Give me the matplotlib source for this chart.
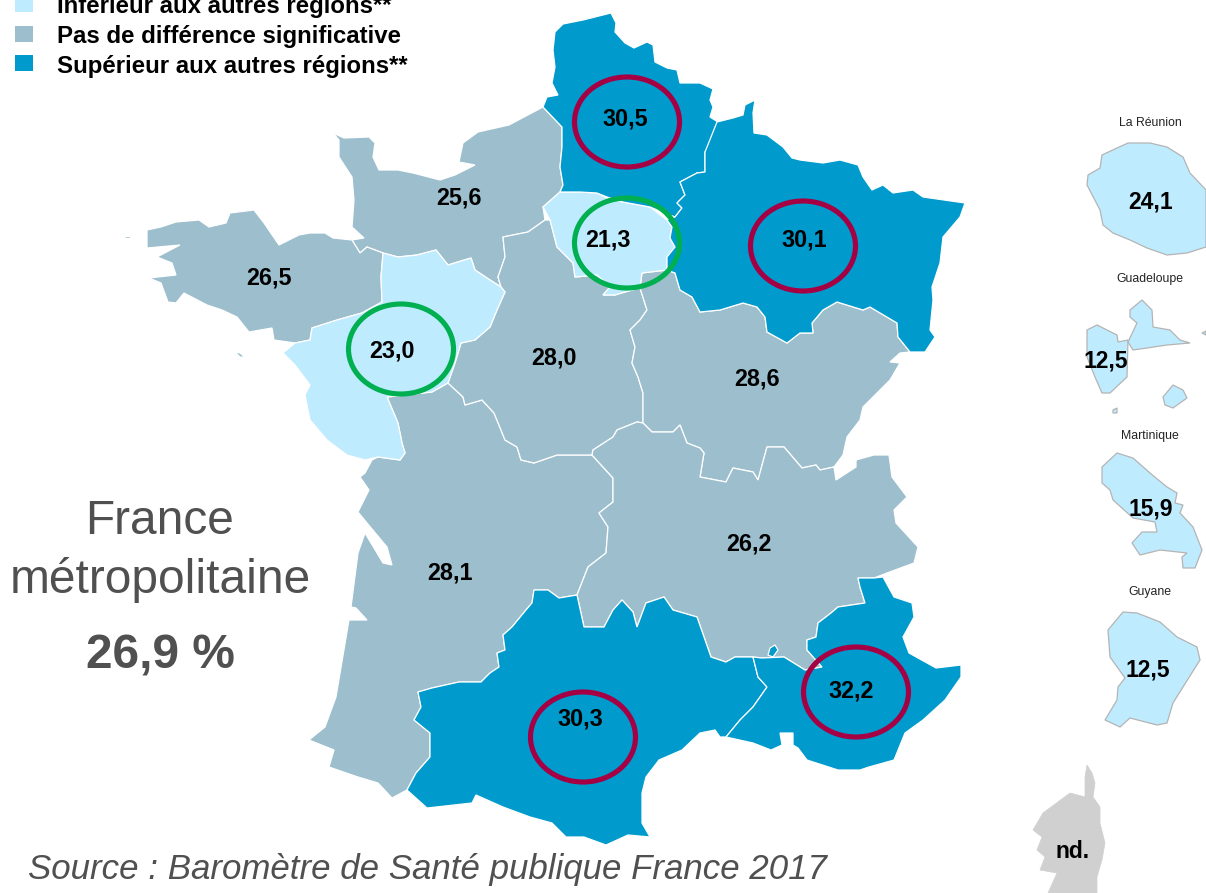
import numpy as np
from matplotlib import pyplot as plt
from matplotlib.patches import Polygon, Ellipse, Rectangle
from matplotlib import rcParams
rcParams['font.family'] = ['Liberation Sans', 'DejaVu Sans']

# region outlines (pixels)
hauts_de_france = [(611,13),(616,23),(615,32),(625,43),(634,48),(647,42),(653,45),(655,62),(667,68),(677,70),(680,83),(700,83),(713,89),(710,100),(713,107),(710,117),(718,122),(717,138),(705,152),(705,172),(697,173),(680,182),(685,195),(677,203),(682,208),(675,217),(650,207),(623,202),(607,197),(597,193),(580,192),(560,192),(563,185),(560,167),(562,147),(562,127),(543,107),(547,97),(558,95),(552,83),(555,67),(553,50),(555,32),(563,24),(583,20)]
ile_de_france = [(543,207),(560,192),(580,192),(597,193),(607,198),(623,202),(650,207),(667,220),(672,227),(670,238),(675,247),(667,257),(667,270),(642,273),(640,288),(625,292),(615,295),(603,295),(610,287),(597,275),(575,277),(573,263),(557,247),(550,220)]
grand_est = [(717,122),(733,118),(743,115),(745,105),(755,100),(753,113),(754,133),(767,135),(783,147),(792,158),(800,160),(823,163),(840,160),(858,165),(863,177),(872,190),(883,185),(893,193),(913,190),(923,197),(965,203),(960,217),(943,237),(940,263),(932,287),(933,300),(930,330),(935,337),(925,352),(910,352),(898,337),(897,323),(870,307),(863,310),(837,302),(823,310),(812,323),(813,333),(800,333),(787,343),(767,332),(765,317),(757,307),(743,303),(720,310),(700,312),(692,297),(680,290),(675,273),(667,270),(667,257),(675,247),(670,238),(672,227),(667,220),(675,217),(682,208),(677,203),(685,195),(680,182),(697,173),(705,172),(705,152)]
normandie = [(333,133),(344,138),(369,137),(375,143),(373,157),(379,170),(398,170),(413,173),(440,180),(455,175),(475,165),(459,162),(463,143),(478,132),(509,125),(543,107),(562,127),(562,147),(560,167),(563,185),(560,192),(543,207),(545,220),(528,232),(503,237),(505,257),(498,277),(501,287),(490,280),(475,270),(471,258),(448,265),(436,250),(417,255),(398,257),(383,253),(367,247),(360,253),(352,240),(364,238),(352,227),(354,200),(352,177),(339,157),(339,140)]
bretagne = [(147,230),(161,227),(176,222),(199,220),(209,227),(226,223),(230,213),(254,210),(264,223),(279,245),(299,235),(310,233),(325,233),(333,238),(352,240),(360,253),(367,247),(383,253),(381,277),(382,302),(362,313),(337,320),(312,328),(310,340),(295,343),(274,340),(272,328),(249,332),(237,317),(222,310),(207,305),(184,293),(176,303),(168,302),(161,283),(149,278),(176,275),(172,263),(157,257),(180,245),(147,248)]
belle_ile = [(235,352),(240,353),(245,357),(240,357)]
ouessant = [(124,236),(130,236),(130,238),(125,238)]
pays_de_la_loire = [(283,353),(295,343),(310,340),(312,328),(337,320),(362,313),(382,302),(381,277),(383,253),(398,257),(417,255),(436,250),(448,265),(471,258),(475,270),(490,280),(501,287),(505,292),(497,310),(490,327),(475,340),(461,343),(455,363),(448,383),(432,392),(387,397),(398,423),(402,443),(405,453),(400,460),(378,457),(365,460),(347,455),(327,440),(310,420),(305,395),(310,385),(295,365)]
centre = [(545,220),(528,232),(503,237),(505,257),(498,277),(501,287),(505,292),(497,310),(490,327),(475,340),(461,343),(455,363),(448,383),(463,397),(465,405),(482,400),(494,413),(501,430),(505,440),(517,447),(521,460),(534,463),(557,455),(592,455),(593,450),(613,437),(617,430),(637,422),(643,423),(643,393),(638,377),(632,363),(635,347),(630,330),(640,320),(647,310),(640,288),(625,292),(615,295),(603,295),(610,287),(597,275),(575,277),(573,263),(557,247),(550,220)]
bourgogne_fc = [(640,288),(642,273),(667,270),(675,273),(680,290),(692,297),(700,312),(720,310),(743,303),(757,307),(765,317),(767,332),(787,343),(800,333),(813,333),(812,323),(823,310),(837,302),(863,310),(870,307),(897,323),(898,337),(910,352),(900,353),(890,362),(900,363),(890,380),(870,400),(863,407),(860,420),(847,437),(843,455),(834,467),(820,470),(816,465),(802,468),(784,447),(767,447),(758,480),(753,472),(733,468),(726,482),(700,477),(704,453),(700,448),(687,443),(680,425),(673,432),(652,432),(643,423),(643,393),(638,377),(632,363),(635,347),(630,330),(640,320),(647,310)]
auvergne_ra = [(592,455),(593,450),(613,437),(617,430),(637,422),(643,423),(652,432),(673,432),(680,425),(687,443),(700,448),(704,453),(700,477),(726,482),(733,468),(753,472),(758,480),(767,447),(784,447),(802,468),(816,465),(820,470),(834,467),(836,480),(856,467),(856,460),(874,455),(889,455),(892,477),(907,497),(894,510),(896,523),(918,547),(914,563),(887,573),(874,578),(858,578),(860,587),(865,603),(838,607),(831,613),(818,623),(816,637),(807,640),(807,650),(822,667),(805,670),(784,657),(762,658),(753,657),(735,657),(726,662),(711,657),(704,637),(697,617),(673,610),(664,597),(646,603),(637,627),(633,612),(622,600),(613,610),(604,627),(584,627),(577,595),(588,567),(606,553),(608,527),(599,513),(613,502),(613,478)]
nouvelle_aquitaine = [(387,397),(432,392),(448,383),(463,397),(465,405),(482,400),(494,413),(501,430),(505,440),(517,447),(521,460),(534,463),(557,455),(592,455),(613,478),(613,502),(599,513),(608,527),(606,553),(588,567),(577,595),(559,598),(548,590),(534,590),(532,603),(526,610),(512,627),(503,635),(505,650),(497,653),(499,667),(490,673),(481,682),(459,682),(432,688),(418,692),(421,707),(414,720),(430,733),(430,757),(416,773),(407,790),(392,798),(378,783),(358,777),(329,767),(334,750),(309,740),(325,727),(336,697),(349,620),(367,620),(356,608),(351,607),(358,553),(365,533),(383,563),(392,565),(387,547),(367,523),(358,512),(369,490),(360,477),(365,473),(372,460),(378,457),(400,460),(405,453),(402,443),(398,423)]
occitanie = [(577,595),(584,627),(604,627),(613,610),(622,600),(633,612),(637,627),(646,603),(664,597),(673,610),(697,617),(704,637),(711,657),(726,662),(735,657),(753,657),(758,677),(767,687),(753,707),(740,720),(726,737),(720,737),(715,730),(700,733),(682,750),(659,760),(646,777),(642,793),(642,823),(650,837),(628,835),(606,845),(584,837),(566,837),(552,823),(530,817),(503,807),(476,795),(472,803),(427,808),(407,790),(416,773),(430,757),(430,733),(414,720),(421,707),(418,692),(432,688),(459,682),(481,682),(490,673),(499,667),(497,653),(505,650),(503,635),(512,627),(526,610),(532,603),(534,590),(548,590),(559,598)]
paca = [(753,657),(762,658),(784,657),(805,670),(822,667),(807,650),(807,640),(816,637),(818,623),(831,613),(838,607),(865,603),(860,587),(858,578),(874,578),(883,577),(894,597),(912,603),(914,617),(903,637),(909,653),(936,668),(961,665),(961,677),(945,700),(923,720),(905,733),(894,760),(869,767),(860,770),(838,770),(807,760),(798,748),(793,745),(793,733),(780,733),(782,745),(771,750),(753,743),(726,737),(740,720),(753,707),(767,687),(758,677)]
valreas = [(770,648),(775,645),(778,650),(773,657),(768,655)]
corse = [(1087,765),(1092,773),(1095,783),(1093,797),(1100,807),(1100,823),(1105,843),(1102,860),(1097,877),(1097,893),(1048,893),(1057,873),(1040,870),(1045,857),(1037,850),(1042,837),(1033,830),(1043,813),(1070,793),(1085,797),(1085,777)]
reunion = [(1102,155),(1117,148),(1128,143),(1150,143),(1167,147),(1183,157),(1190,173),(1206,190),(1206,247),(1187,253),(1167,255),(1147,248),(1130,240),(1113,233),(1103,225),(1100,210),(1087,185),(1088,175),(1100,168)]
basse_terre = [(1087,330),(1097,325),(1117,335),(1118,342),(1128,340),(1127,377),(1110,393),(1102,393),(1095,377),(1087,357)]
grande_terre = [(1130,310),(1142,300),(1152,310),(1153,327),(1170,330),(1180,340),(1190,343),(1167,345),(1147,348),(1133,350),(1128,342),(1137,323),(1130,317)]
marie_galante = [(1163,397),(1173,385),(1183,390),(1187,398),(1173,408),(1165,405)]
les_saintes = [(1113,410),(1117,408),(1117,413),(1113,413)]
desirade = [(1202,333),(1206,331),(1206,335)]
martinique = [(1102,467),(1117,453),(1133,458),(1150,473),(1167,487),(1177,493),(1175,503),(1183,505),(1180,513),(1193,527),(1202,550),(1195,568),(1183,568),(1182,557),(1187,553),(1160,550),(1140,555),(1132,543),(1142,532),(1157,532),(1155,522),(1133,518),(1113,500),(1110,490),(1102,483)]
guyane = [(1123,612),(1137,613),(1160,622),(1177,637),(1197,647),(1200,660),(1183,687),(1173,703),(1167,723),(1157,725),(1130,718),(1120,727),(1105,720),(1117,700),(1118,687),(1125,678),(1110,657),(1108,630)]

low = '#BFEBFF'
same = '#9CBECD'
high = '#009ACD'
nd = '#D0D0D0'

metro_shapes = [normandie, bretagne, belle_ile, ouessant, nouvelle_aquitaine, centre, bourgogne_fc, auvergne_ra]
metro_high = [hauts_de_france, grand_est, occitanie, paca, valreas]
metro_low = [ile_de_france, pays_de_la_loire]
dom_shapes = [reunion, basse_terre, grande_terre, marie_galante, les_saintes, desirade, martinique, guyane]

legend_labels = ['Inférieur aux autres régions**', 'Pas de différence significative', 'Supérieur aux autres régions**']
legend_colors = [low, same, high]
legend_y = [4, 34, 63]
legend_text_y = [6, 36, 67]

values = ['30,5', '25,6', '26,5', '21,3', '30,1', '28,0', '28,6', '23,0', '28,1', '26,2', '30,3', '32,2']
values_x = [625, 459, 269, 608, 804, 554, 757, 392, 450, 749, 580, 851]
values_y = [119, 198, 278, 240, 240, 358, 379, 351, 573, 544, 719, 691]

dom_values = ['24,1', '12,5', '15,9', '12,5', 'nd.']
dom_x = [1151, 1106, 1151, 1148, 1073]
dom_y = [202, 361, 509, 670, 852]

dom_names = ['La Réunion', 'Guadeloupe', 'Martinique', 'Guyane']
dom_names_y = [123, 279, 436, 592]

red_rings = [(627, 122), (803, 246), (856, 692), (583, 737)]
green_rings = [(627, 243), (401, 349)]

fig = plt.figure(figsize=(12.06, 8.93), dpi=100)
ax = fig.add_axes([0, 0, 1, 1])
ax.set_xlim(0, 1206)
ax.set_ylim(893, 0)
ax.axis('off')

for s in metro_shapes:
    ax.add_patch(Polygon(s, closed=True, fc=same, ec='white', lw=0.9))
for s in metro_low:
    ax.add_patch(Polygon(s, closed=True, fc=low, ec='white', lw=0.9))
for s in metro_high:
    ax.add_patch(Polygon(s, closed=True, fc=high, ec='white', lw=0.9))
for s in dom_shapes:
    ax.add_patch(Polygon(s, closed=True, fc=low, ec='#B4B4B4', lw=0.9))
ax.add_patch(Polygon(corse, closed=True, fc=nd, ec=nd, lw=0.5))

for c, lab, y, ty in zip(legend_colors, legend_labels, legend_y, legend_text_y):
    ax.add_patch(Rectangle((15, y - 8), 18, 16, fc=c, ec='none'))
    ax.text(57, ty, lab, fontsize=17.3, fontweight='bold', ha='left', va='center', color='black')

for c in red_rings:
    ax.add_patch(Ellipse(c, 105, 90, fc='none', ec='#A50044', lw=3.7))
for c in green_rings:
    ax.add_patch(Ellipse(c, 105, 90, fc='none', ec='#00AF50', lw=3.7))

for v, x, y in zip(values, values_x, values_y):
    ax.text(x, y, v, fontsize=16.8, fontweight='bold', ha='center', va='center', color='black')
for v, x, y in zip(dom_values, dom_x, dom_y):
    ax.text(x, y, v, fontsize=16.5, fontweight='bold', ha='center', va='center', color='black')
for n, y in zip(dom_names, dom_names_y):
    ax.text(1150, y, n, fontsize=8.8, ha='center', va='center', color='#222222')

ax.text(160, 522, 'France', fontsize=34.5, ha='center', va='center', color='#505050')
ax.text(160, 580, 'métropolitaine', fontsize=34.5, ha='center', va='center', color='#505050')
ax.text(160, 656, '26,9 %', fontsize=34.5, fontweight='bold', ha='center', va='center', color='#505050')
ax.text(28, 869, 'Source : Baromètre de Santé publique France 2017', fontsize=25.1, style='italic', ha='left', va='center', color='#505050')

plt.savefig('out.png', dpi=100)
